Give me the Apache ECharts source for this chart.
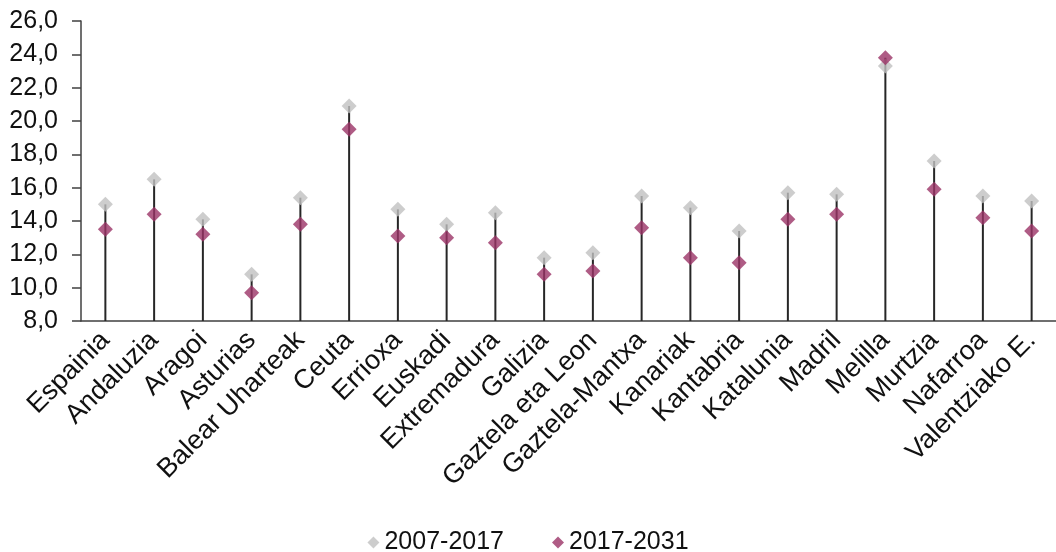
<!DOCTYPE html>
<html>
<head>
<meta charset="utf-8">
<script src="https://cdn.jsdelivr.net/npm/echarts@6/dist/echarts.min.js"></script>
<style>
html,body{margin:0;padding:0;background:#fff;}
#main{width:1056px;height:552px;}
</style>
</head>
<body>
<div id="main"></div>
<script>
const categories = ['Espainia','Andaluzia','Aragoi','Asturias','Balear Uharteak','Ceuta','Errioxa','Euskadi','Extremadura','Galizia','Gaztela eta Leon','Gaztela-Mantxa','Kanariak','Kantabria','Katalunia','Madril','Melilla','Murtzia','Nafarroa','Valentziako E.'];
const series2007 = [15.0,16.5,14.1,10.8,15.4,20.9,14.7,13.8,14.5,11.8,12.1,15.5,14.8,13.4,15.7,15.6,23.3,17.6,15.5,15.2];
const series2017 = [13.5,14.4,13.2,9.7,13.8,19.5,13.1,13.0,12.7,10.8,11.0,13.6,11.8,11.5,14.1,14.4,23.8,15.9,14.2,13.4];
const seriesNames = ['2007-2017','2017-2031'];

const stems = series2007.map((v, i) => Math.max(v, series2017[i]));
const FONT = '"Liberation Sans", Arial, sans-serif';

const chart = echarts.init(document.getElementById('main'), null, {renderer: 'canvas'});
chart.setOption({
  animation: false,
  backgroundColor: '#ffffff',
  grid: {left: 81, top: 21, width: 982, height: 300, containLabel: false},
  legend: {
    bottom: -8,
    left: 'center',
    icon: 'diamond',
    itemWidth: 12,
    itemHeight: 12,
    itemGap: 48,
    data: seriesNames,
    textStyle: {fontFamily: FONT, fontSize: 25, color: '#111111'}
  },
  xAxis: {
    type: 'category',
    data: categories,
    boundaryGap: true,
    axisLine: {lineStyle: {color: '#404040', width: 1.5}},
    axisTick: {show: false},
    axisLabel: {
      interval: 0,
      rotate: 45,
      margin: 15,
      fontFamily: FONT,
      fontSize: 27,
      color: '#111111'
    },
    splitLine: {show: false}
  },
  yAxis: {
    type: 'value',
    min: 8,
    max: 26,
    interval: 2,
    axisLine: {show: true, lineStyle: {color: '#404040', width: 1.5}},
    axisTick: {show: true, inside: false, length: 9, lineStyle: {color: '#404040', width: 1.5}},
    axisLabel: {
      margin: 23,
      fontFamily: FONT,
      fontSize: 25,
      color: '#111111',
      formatter: v => v.toFixed(1).replace('.', ',')
    },
    splitLine: {show: false}
  },
  series: [
    {
      type: 'bar',
      name: 'stem',
      data: stems,
      barWidth: 2,
      itemStyle: {color: '#262626'},
      silent: true,
      legendHoverLink: false
    },
    {
      type: 'scatter',
      name: seriesNames[0],
      data: series2007,
      symbol: 'diamond',
      symbolSize: 15,
      itemStyle: {color: '#c0c0c0'},
      z: 3
    },
    {
      type: 'scatter',
      name: seriesNames[1],
      data: series2017,
      symbol: 'diamond',
      symbolSize: 15,
      itemStyle: {color: '#9b3366'},
      z: 4
    }
  ]
});
</script>
</body>
</html>
